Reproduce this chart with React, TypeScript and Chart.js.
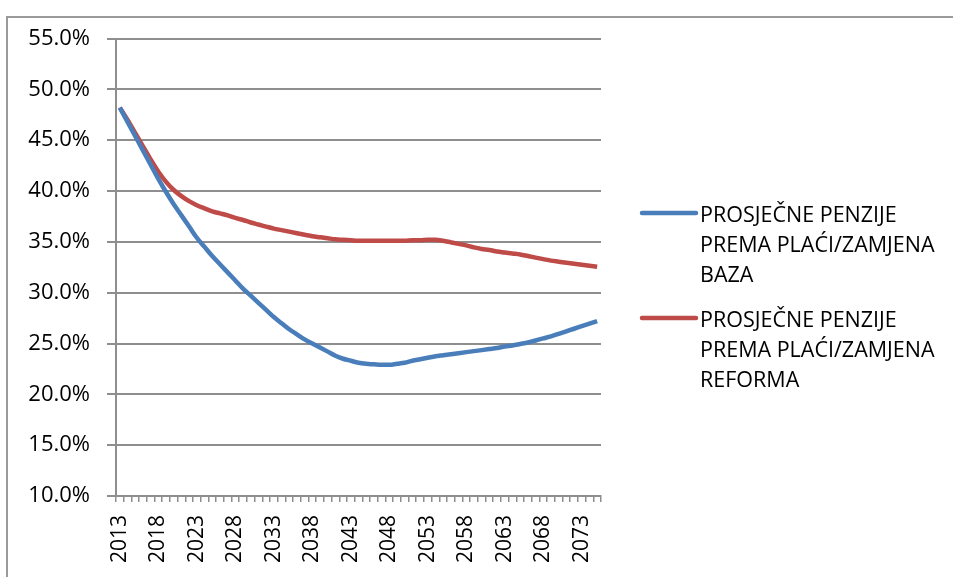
import React, { useEffect, useRef } from 'react';
import { Chart, registerables } from 'chart.js';

Chart.register(...registerables);

const firstYear = 2013;
const lastYear = 2075;
const years: string[] = [];
for (let y = firstYear; y <= lastYear; y++) years.push(String(y));

const bazaValues = [
  48.2, 46.8, 45.4, 44.0, 42.6, 41.2, 39.9, 38.7, 37.6, 36.5,
  35.4, 34.5, 33.6, 32.8, 32.0, 31.2, 30.4, 29.7, 29.0, 28.3,
  27.6, 27.0, 26.4, 25.9, 25.4, 25.0, 24.6, 24.2, 23.8, 23.5,
  23.3, 23.1, 23.0, 22.95, 22.9, 22.9, 23.0, 23.1, 23.3, 23.45,
  23.6, 23.75, 23.85, 23.95, 24.05, 24.15, 24.25, 24.35, 24.45, 24.55,
  24.7, 24.8, 24.95, 25.1, 25.3, 25.5, 25.7, 25.95, 26.2, 26.45,
  26.7, 26.95, 27.2,
];

const reformaValues = [
  48.2, 47.0, 45.7, 44.4, 43.1, 41.9, 40.9, 40.1, 39.5, 39.0,
  38.6, 38.3, 38.0, 37.8, 37.6, 37.35, 37.15, 36.9, 36.7, 36.5,
  36.3, 36.15, 36.0, 35.85, 35.7, 35.55, 35.45, 35.35, 35.25, 35.2,
  35.15, 35.1, 35.1, 35.1, 35.1, 35.1, 35.1, 35.1, 35.15, 35.15,
  35.2, 35.2, 35.1, 34.95, 34.8, 34.65, 34.45, 34.3, 34.2, 34.05,
  33.95, 33.85, 33.75, 33.6, 33.45, 33.3, 33.15, 33.05, 32.95, 32.85,
  32.75, 32.65, 32.55,
];

const seriesLabels = [
  ['PROSJEČNE PENZIJE', 'PREMA PLAĆI/ZAMJENA', 'BAZA'],
  ['PROSJEČNE PENZIJE', 'PREMA PLAĆI/ZAMJENA', 'REFORMA'],
];
const seriesColors = ['#4a7ebb', '#be4b48'];

const yMin = 10;
const yMax = 55;
const yStep = 5;
const labelEvery = 5;

const FONT = '"Open Sans", sans-serif';
const GRID = '#8e8e8e';

const sideLegend = {
  id: 'sideLegend',
  afterDraw(chart: any) {
    const ctx = chart.ctx;
    ctx.save();
    chart.data.datasets.forEach((ds: any, i: number) => {
      const top = 195 + i * 105;
      ctx.strokeStyle = ds.borderColor;
      ctx.lineWidth = 4.5;
      ctx.lineCap = 'round';
      ctx.beginPath();
      ctx.moveTo(634, top);
      ctx.lineTo(688, top);
      ctx.stroke();
      ctx.fillStyle = '#000';
      ctx.font = '21.5px ' + FONT;
      ctx.textBaseline = 'middle';
      ctx.textAlign = 'left';
      seriesLabels[i].forEach((t, j) => ctx.fillText(t, 692, top + 3 + j * 30));
    });
    ctx.restore();
  },
};

export default function App() {
  const ref = useRef<HTMLCanvasElement>(null);
  useEffect(() => {
    if (!ref.current) return;
    const chart = new Chart(ref.current, {
      type: 'line',
      data: {
        labels: years,
        datasets: [
          {
            label: seriesLabels[0].join(' '),
            data: bazaValues,
            borderColor: seriesColors[0],
            backgroundColor: seriesColors[0],
            borderWidth: 4.5,
            pointRadius: 0,
            cubicInterpolationMode: 'monotone',
            fill: false,
          },
          {
            label: seriesLabels[1].join(' '),
            data: reformaValues,
            borderColor: seriesColors[1],
            backgroundColor: seriesColors[1],
            borderWidth: 4.5,
            pointRadius: 0,
            cubicInterpolationMode: 'monotone',
            fill: false,
          },
        ],
      },
      options: {
        responsive: false,
        animation: false,
        layout: { padding: { top: 20.5, right: 352, bottom: 0, left: 0 } },
        plugins: { legend: { display: false }, tooltip: { enabled: false } },
        scales: {
          x: {
            offset: true,
            afterFit: (s: any) => { s.height = 82; s.paddingLeft = 0; s.paddingRight = 0; },
            grid: {
              display: true,
              drawOnChartArea: false,
              drawTicks: true,
              tickLength: 6,
              offset: true,
              color: GRID,
              lineWidth: 1.5,
            },
            border: { display: true, color: GRID, width: 2 },
            ticks: {
              autoSkip: false,
              maxRotation: 90,
              minRotation: 90,
              padding: 13,
              color: '#000',
              font: { family: FONT, size: 21 },
              callback: (_v: any, i: number) => (i % labelEvery === 0 ? years[i] : ''),
            },
          },
          y: {
            min: yMin,
            max: yMax,
            afterFit: (s: any) => { s.width = 108; s.paddingTop = 0; s.paddingBottom = 0; },
            grid: { color: GRID, lineWidth: 2, tickLength: 9, drawTicks: true },
            border: { display: true, color: GRID, width: 2 },
            ticks: {
              stepSize: yStep,
              padding: 17,
              color: '#000',
              font: { family: FONT, size: 22 },
              callback: (v: any) => Number(v).toFixed(1) + '%',
            },
          },
        },
      },
      plugins: [sideLegend],
    });
    return () => chart.destroy();
  }, []);

  return (
    <div style={{ position: 'fixed', left: 0, top: 0, width: 953, height: 577, overflow: 'hidden', background: '#fff' }}>
      <div
        style={{
          position: 'absolute',
          left: 6,
          top: 16,
          width: 1000,
          height: 700,
          border: '2px solid #9a9a9a',
        }}
      >
        <canvas ref={ref} width={945} height={560} style={{ display: 'block', width: 945, height: 560 }} />
      </div>
    </div>
  );
}
